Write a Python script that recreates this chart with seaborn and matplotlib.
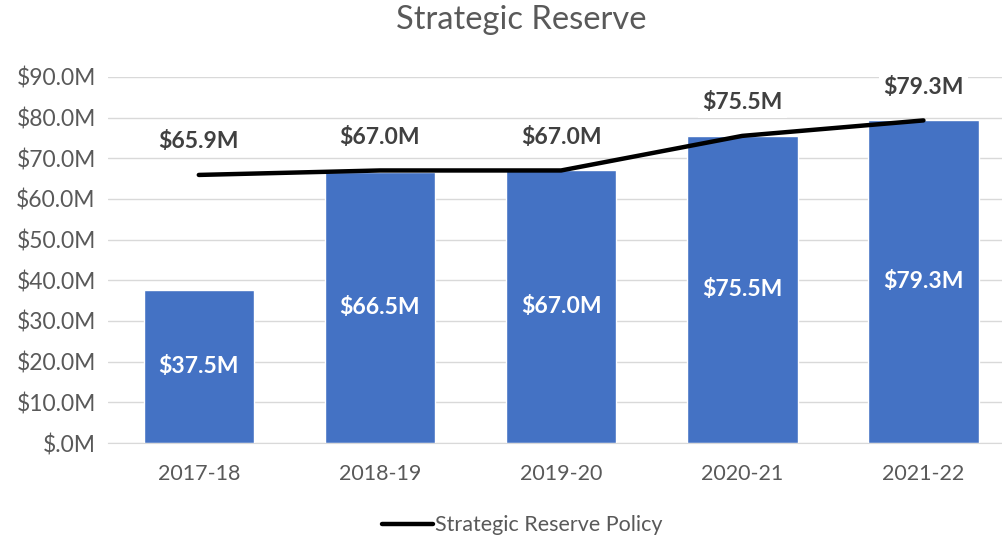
import numpy as np
import pandas as pd
import matplotlib
matplotlib.use("Agg")
import matplotlib.pyplot as plt
import seaborn as sns

years = ["2017-18", "2018-19", "2019-20", "2020-21", "2021-22"]
reserve = [37.5, 66.5, 67.0, 75.5, 79.3]
policy = [65.9, 67.0, 67.0, 75.5, 79.3]

df = pd.DataFrame({"year": years, "reserve": reserve, "policy": policy})

sns.set_style("white")
plt.rcParams["font.family"] = ["Lato", "DejaVu Sans"]
grey = "#595959"
bar_col = "#4472C4"

fig = plt.figure(figsize=(10.02, 5.4), dpi=100)
ax = fig.add_axes([0.108, 0.1796, 0.904, 0.678])

sns.barplot(data=df, x="year", y="reserve", color=bar_col, width=0.61,
            saturation=1, ax=ax, zorder=2)
sns.lineplot(x=np.arange(len(years)), y=df["policy"], color="black",
             linewidth=3.2, ax=ax, zorder=3, label="Strategic Reserve Policy",
             solid_capstyle="round")

# labels inside bars
for i, v in enumerate(reserve):
    ax.text(i, v / 2, f"${v:.1f}M", ha="center", va="center", color="white",
            fontsize=16.5, fontweight="bold", zorder=4)

# labels above line
for i, v in enumerate(policy):
    ax.annotate(f"${v:.1f}M", (i, v), xytext=(0, 24), textcoords="offset points",
                ha="center", va="center", color="#404040", fontsize=16.5,
                fontweight="bold", zorder=5,
                bbox=dict(boxstyle="square,pad=0.2", fc="white", ec="none"))

ax.set_ylim(0, 90)
ax.set_xlim(-0.5, 4.5)
ax.set_yticks(np.arange(0, 91, 10))
ax.set_yticklabels(["$.0M"] + [f"${t:.1f}M" for t in np.arange(10, 91, 10)])
ax.yaxis.grid(True, color="#D9D9D9", linewidth=1)
ax.set_axisbelow(True)
for s in ["top", "right", "left"]:
    ax.spines[s].set_visible(False)
ax.spines["bottom"].set_color("#D9D9D9")
ax.tick_params(axis="both", length=0, labelsize=15.5, colors=grey)
ax.tick_params(axis="x", pad=15)
ax.tick_params(axis="y", pad=9, labelsize=16.5)
ax.set_xlabel("")
ax.set_ylabel("")

fig.suptitle("Strategic Reserve", x=0.52, y=0.99, fontsize=23.5, color=grey)

leg = ax.legend(loc="center", bbox_to_anchor=(0.457, -0.225),
                frameon=False, fontsize=15.5, handlelength=2.4, handletextpad=0.1)
for t in leg.get_texts():
    t.set_color(grey)

fig.savefig("out.png", dpi=100)
